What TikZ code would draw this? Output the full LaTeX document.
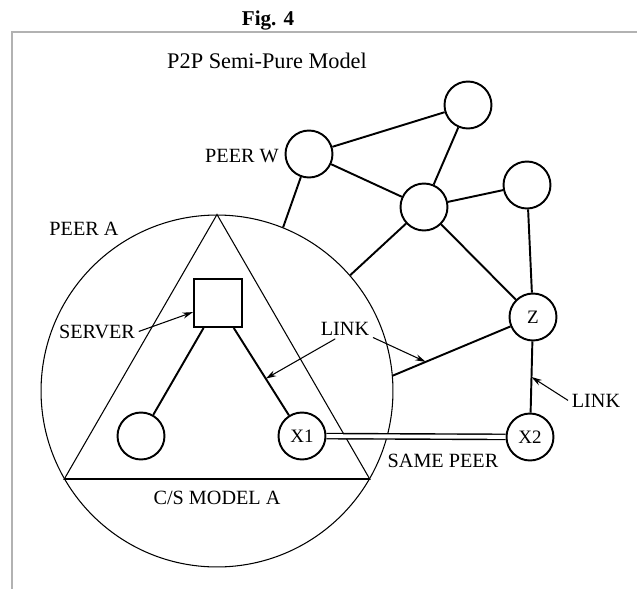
\documentclass[tikz,border=0pt]{standalone}
\usepackage{fontspec}
\setmainfont{Liberation Serif}
\usetikzlibrary{arrows.meta}

\begin{document}
\begin{tikzpicture}[x=0.02cm, y=-0.02cm,
        peer/.style={draw, circle, line width=1.1pt, minimum size=0.94cm, inner sep=0pt, font=\fontsize{10.8}{12}\selectfont},
        link/.style={line width=1.1pt},
        hair/.style={line width=0.6pt},
        callout/.style={line width=0.6pt, -{Stealth[length=6pt, width=3.5pt]}},
        lbl/.style={font=\fontsize{11.5}{13}\selectfont, inner sep=2pt}]
        \useasboundingbox (0,0) rectangle (637,589);

        \draw[gray!60, line width=0.8pt] (12,589) -- (12,32) -- (637,32);
        \node[anchor=base, font=\bfseries\fontsize{12}{14}\selectfont] (fig) at (268,25) {Fig. 4};
        \node[anchor=base, font=\fontsize{12.7}{15}\selectfont] (title) at (267,68) {P2P Semi-Pure Model};

        % peer A with its c/s model
        \node[draw, circle, hair, minimum size=7.04cm] (peerA) at (217,391) {};
        \draw[hair] (peerA.90) -- (peerA.210) -- (peerA.330) -- cycle;
        \draw[line width=1pt] (peerA.210) -- (peerA.330);

        \node[draw, rectangle, line width=1.1pt, minimum size=0.96cm] (srv) at (218,303) {};
        \node[peer] (client) at (141,436) {};
        \node[peer] (x1) at (302,436) {X1};
        \draw[link] (srv) -- (client);
        \draw[link] (srv) -- coordinate[pos=0.58] (tipA) (x1);

        % other peers
        \node[peer] (w) at (309,154) {};
        \node[peer] (n1) at (468,105) {};
        \node[peer] (c) at (424,207) {};
        \node[peer] (r) at (527,185) {};
        \node[peer] (z) at (533,317) {Z};
        \node[peer] (x2) at (530,437) {X2};

        \draw[link] (w) -- (n1);
        \draw[link] (n1) -- (c);
        \draw[link] (w) -- (c);
        \draw[link] (c) -- (r);
        \draw[link] (r) -- (z);
        \draw[link] (c) -- (z);
        \draw[link] (w) -- (peerA.68);
        \draw[link] (c) -- (peerA.41);
        \draw[link] (z) -- coordinate[pos=0.72] (tipB) (peerA.5);
        \draw[link] (z) -- coordinate[pos=0.5] (tipC) (x2);
        \draw[line width=0.8pt, double, double distance=2.2pt] (x1) -- (x2);

        % labels
        \node[lbl, anchor=base] (lpeerA) at (84,235) {PEER A};
        \node[lbl, anchor=base] (lpeerW) at (242,162) {PEER W};
        \node[lbl, anchor=base] (lserver) at (97,338) {SERVER};
        \node[lbl, anchor=base] (llink) at (345,335) {LINK};
        \node[lbl, anchor=base] (llink2) at (596,407) {LINK};
        \node[lbl, anchor=base] (lsame) at (443,467) {SAME PEER};
        \node[lbl, anchor=base] (lmodel) at (217,504) {C/S MODEL A};

        \draw[callout] (lserver.east) -- (srv.200);
        \draw[callout] (llink.227) -- (tipA);
        \draw[callout] (llink.-18) -- (tipB);
        \draw[callout] (llink2.west) -- (tipC);
\end{tikzpicture}
\end{document}
